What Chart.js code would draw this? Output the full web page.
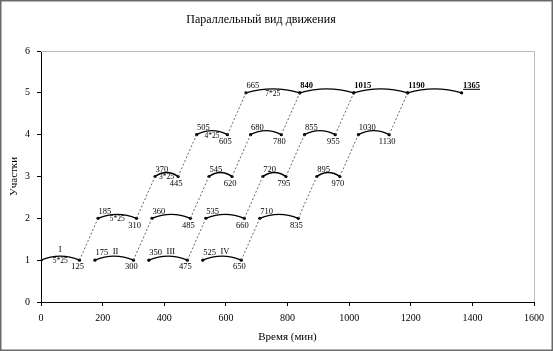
<!DOCTYPE html>
<html>
<head>
<meta charset="utf-8">
<script src="https://cdn.jsdelivr.net/npm/chart.js@4.4.1/dist/chart.umd.min.js"></script>
<style>
  html, body { margin: 0; padding: 0; background: #fff; }
  #c { display: block; }
</style>
</head>
<body>
<canvas id="c" width="553" height="351"></canvas>
<script>
// ---- data ----
const chartTitle = 'Параллельный вид движения';
const sectionLevels = [1, 2, 3, 4, 5];
const batchNames = ['I', 'II', 'III', 'IV'];
const section1Start = [0, 175, 350, 525];
const section1End   = [125, 300, 475, 650];
const section2Start = [185, 360, 535, 710];
const section2End   = [310, 485, 660, 835];
const section3Start = [370, 545, 720, 895];
const section3End   = [445, 620, 795, 970];
const section4Start = [505, 680, 855, 1030];
const section4End   = [605, 780, 955, 1130];
const section5Start = [665, 840, 1015, 1190];
const section5End   = [840, 1015, 1190, 1365];
const opLabels = ['5*25', '5*25', '3*25', '4*25', '7*25'];
const xTickMin = 0, xTickMax = 1600, xTickStep = 200;
const yTickMin = 0, yTickMax = 6, yTickStep = 1;

const starts = [section1Start, section2Start, section3Start, section4Start, section5Start];
const ends = [section1End, section2End, section3End, section4End, section5End];

const SERIF = "'Liberation Serif', 'Times New Roman', serif";

// build datasets
const datasets = [];
// dotted connectors: end at section k -> start at section k+1
for (let s = 0; s < sectionLevels.length - 1; s++) {
  for (let b = 0; b < batchNames.length; b++) {
    datasets.push({
      kind: 'link',
      data: [{x: ends[s][b], y: sectionLevels[s]}, {x: starts[s + 1][b], y: sectionLevels[s + 1]}],
      showLine: true,
      borderColor: '#666',
      borderWidth: 1,
      borderDash: [2, 2],
      pointRadius: 0,
      fill: false
    });
  }
}
// operation segments
for (let s = 0; s < sectionLevels.length; s++) {
  for (let b = 0; b < batchNames.length; b++) {
    datasets.push({
      kind: 'seg', sec: s, batch: b,
      data: [{x: starts[s][b], y: sectionLevels[s]}, {x: ends[s][b], y: sectionLevels[s]}],
      showLine: false,
      pointRadius: 1.6,
      pointBackgroundColor: '#000',
      pointBorderColor: '#000',
      pointBorderWidth: 0
    });
  }
}

const arcPlugin = {
  id: 'arcs',
  afterDatasetsDraw(chart) {
    const ctx = chart.ctx;
    ctx.save();
    ctx.strokeStyle = '#000';
    ctx.lineWidth = 1.4;
    chart.data.datasets.forEach((ds, i) => {
      if (ds.kind !== 'seg') return;
      const pts = chart.getDatasetMeta(i).data;
      const p0 = pts[0], p1 = pts[1];
      ctx.beginPath();
      ctx.moveTo(p0.x, p0.y);
      ctx.quadraticCurveTo((p0.x + p1.x) / 2, p0.y - 8, p1.x, p1.y);
      ctx.stroke();
    });
    ctx.restore();
  }
};

const labelPlugin = {
  id: 'labels',
  afterDatasetsDraw(chart) {
    const ctx = chart.ctx;
    const xs = chart.scales.x, ys = chart.scales.y;
    ctx.save();
    ctx.fillStyle = '#000';
    ctx.textBaseline = 'middle';
    const normal = '8.5px ' + SERIF;
    const bold = 'bold 8.5px ' + SERIF;
    const small = '7.5px ' + SERIF;
    for (let s = 0; s < sectionLevels.length; s++) {
      const sy = ys.getPixelForValue(sectionLevels[s]);
      for (let b = 0; b < batchNames.length; b++) {
        const sx = xs.getPixelForValue(starts[s][b]);
        const ex = xs.getPixelForValue(ends[s][b]);
        if (s < 4) {
          if (!(s === 0 && b === 0)) {
            ctx.font = normal; ctx.textAlign = 'left';
            const t = String(starts[s][b]);
            ctx.fillText(t, sx + 0.5, sy - 7);
            if (s === 0) {
              const w = ctx.measureText(t).width;
              ctx.fillText(batchNames[b], sx + w + 5, sy - 8);
            }
          } else {
            ctx.font = normal; ctx.textAlign = 'center';
            ctx.fillText(batchNames[b], (sx + ex) / 2, sy - 10);
          }
          ctx.font = normal; ctx.textAlign = 'center';
          ctx.fillText(String(ends[s][b]), ex - 2, sy + 7);
        } else {
          ctx.textAlign = 'left';
          ctx.font = b === 0 ? normal : bold;
          ctx.fillText(String(starts[s][b]), sx + 0.5, sy - 7.5);
          if (b === batchNames.length - 1) {
            ctx.font = bold;
            const t = String(ends[s][b]);
            ctx.fillText(t, ex + 1.5, sy - 7.5);
            const w = ctx.measureText(t).width;
            ctx.beginPath();
            ctx.strokeStyle = '#000';
            ctx.lineWidth = 1;
            ctx.moveTo(ex + 1.5, sy - 3.5);
            ctx.lineTo(ex + 1.5 + w, sy - 3.5);
            ctx.stroke();
          }
        }
        if (b === 0) {
          ctx.font = small; ctx.textAlign = 'center';
          ctx.fillText(opLabels[s], (sx + ex) / 2, sy + 1);
        }
      }
    }
    ctx.restore();
  }
};

const framePlugin = {
  id: 'frame',
  beforeDraw(chart) {
    const ctx = chart.ctx;
    ctx.save();
    ctx.fillStyle = '#fff';
    ctx.fillRect(0, 0, chart.width, chart.height);
    ctx.restore();
  },
  afterDraw(chart) {
    const ctx = chart.ctx;
    const a = chart.chartArea;
    ctx.save();
    // title
    ctx.fillStyle = '#000';
    ctx.font = '12px ' + SERIF;
    ctx.textAlign = 'center';
    ctx.textBaseline = 'middle';
    ctx.fillText(chartTitle, 261, 20);
    // plot area border (top/right)
    ctx.strokeStyle = '#bdbdbd';
    ctx.lineWidth = 1;
    ctx.beginPath();
    ctx.moveTo(a.left, a.top + 0.5);
    ctx.lineTo(a.right + 0.5, a.top + 0.5);
    ctx.lineTo(a.right + 0.5, a.bottom);
    ctx.stroke();
    // outer frame
    ctx.strokeStyle = '#6a6a6a';
    ctx.lineWidth = 1.5;
    ctx.strokeRect(0.75, 0.75, chart.width - 1.5, chart.height - 1.5);
    ctx.restore();
  }
};

new Chart(document.getElementById('c'), {
  type: 'scatter',
  data: { datasets },
  options: {
    responsive: false,
    animation: false,
    devicePixelRatio: 1,
    layout: { padding: { left: 0, right: 19, top: 51, bottom: 0 } },
    plugins: {
      legend: { display: false },
      tooltip: { enabled: false },
      title: { display: false }
    },
    scales: {
      x: {
        type: 'linear',
        min: xTickMin, max: xTickMax,
        ticks: { stepSize: xTickStep, color: '#000', font: { family: SERIF, size: 10 }, padding: 6, maxRotation: 0,
                 callback: (v) => String(v) },
        grid: { drawOnChartArea: false, tickLength: 4, color: '#000' },
        border: { color: '#000', width: 1 },
        title: { display: true, text: 'Время (мин)', color: '#000', font: { family: SERIF, size: 11 }, padding: { top: 0, bottom: 7 } },
        afterFit(scale) { scale.height = 49; }
      },
      y: {
        type: 'linear',
        min: yTickMin, max: yTickMax,
        ticks: { stepSize: yTickStep, color: '#000', font: { family: SERIF, size: 10 }, padding: 7 },
        grid: { drawOnChartArea: false, tickLength: 4, color: '#000' },
        border: { color: '#000', width: 1 },
        title: { display: true, text: 'Участки', color: '#000', font: { family: SERIF, size: 11 }, padding: { top: 8, bottom: 0 } },
        afterFit(scale) { scale.width = 41; }
      }
    }
  },
  plugins: [framePlugin, arcPlugin, labelPlugin]
});
</script>
</body>
</html>
